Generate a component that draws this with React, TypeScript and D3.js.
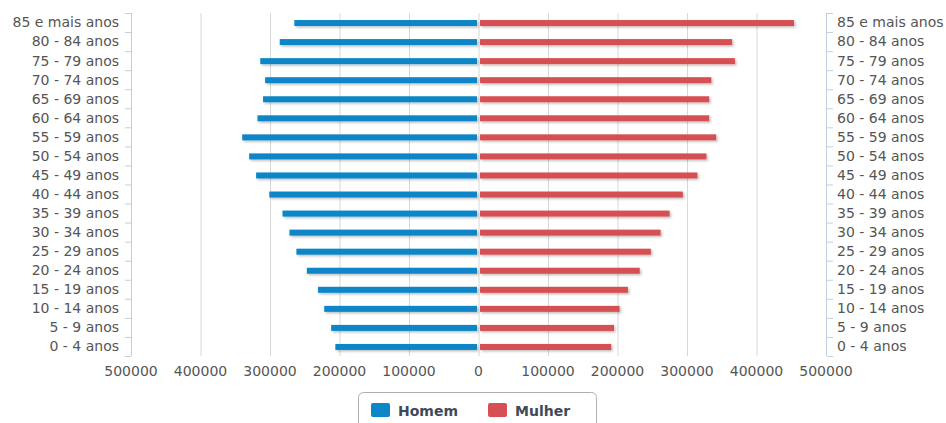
import React from "react";
import * as d3 from "d3";

const categories = [
  "85 e mais anos", "80 - 84 anos", "75 - 79 anos", "70 - 74 anos", "65 - 69 anos",
  "60 - 64 anos", "55 - 59 anos", "50 - 54 anos", "45 - 49 anos", "40 - 44 anos",
  "35 - 39 anos", "30 - 34 anos", "25 - 29 anos", "20 - 24 anos", "15 - 19 anos",
  "10 - 14 anos", "5 - 9 anos", "0 - 4 anos",
];
const homem = [265000, 286000, 314000, 307000, 310000, 318000, 340000, 330000, 320000, 301000,
  282000, 272000, 262000, 247000, 231000, 222000, 212000, 206000];
const mulher = [454000, 365000, 369000, 335000, 332000, 332000, 342000, 328000, 315000, 294000,
  275000, 262000, 248000, 232000, 215000, 203000, 195000, 191000];
const xTicks = [-500000, -400000, -300000, -200000, -100000, 0, 100000, 200000, 300000, 400000, 500000];
const seriesNames = ["Homem", "Mulher"];

const W = 946, H = 423;
const left = 131, right = 826, top = 13, bottom = 356;
const BLUE = "#0b86c8", RED = "#d64f52";
const FONT = "'DejaVu Sans', Verdana, sans-serif";

export default function App() {
  const x = d3.scaleLinear().domain([-500000, 500000]).range([left, right]);
  const y = d3.scaleBand<string>().domain(categories).range([top, bottom]).padding(0);
  const bw = y.bandwidth();
  const barH = 6;
  const fmt = (v: number) => String(Math.abs(v));
  const boundaries = d3.range(categories.length + 1).map((i) => top + i * bw);

  return (
    <svg width={W} height={H} style={{ position: "absolute", left: 0, top: 0, background: "#fff" }}
      fontFamily={FONT}>
      <defs>
        <filter id="sh" x="-5%" y="-100%" width="110%" height="300%">
          <feDropShadow dx="1.5" dy="1.5" stdDeviation="1" floodColor="#000" floodOpacity="0.25" />
        </filter>
      </defs>
      {/* grid */}
      {xTicks.map((t) => (
        <line key={"g" + t} x1={x(t) + 0.5} x2={x(t) + 0.5} y1={top} y2={bottom}
          stroke={t === -500000 || t === 500000 ? "#c0d0e0" : "#d8d8d8"} strokeWidth={1} />
      ))}
      {/* category axes ticks */}
      {boundaries.map((b, i) => (
        <g key={"t" + i}>
          <line x1={left - 6} x2={left} y1={b + 0.5} y2={b + 0.5} stroke="#c0d0e0" />
          <line x1={right + 1} x2={right + 7} y1={b + 0.5} y2={b + 0.5} stroke="#c0d0e0" />
        </g>
      ))}
      <line x1={left + 0.5} x2={left + 0.5} y1={top} y2={bottom} stroke="#c0d0e0" />
      <line x1={right + 0.5} x2={right + 0.5} y1={top} y2={bottom} stroke="#c0d0e0" />
      {/* bars */}
      {categories.map((c, i) => {
        const cy = (y(c) as number) + bw / 2 + 0.5 - barH / 2;
        const x0 = x(0);
        const xl = x(-homem[i]);
        const xr = x(mulher[i]);
        return (
          <g key={"b" + c}>
            <rect x={xl} y={cy} width={x0 - 1.5 - xl} height={barH} fill={BLUE} filter="url(#sh)" />
            <rect x={x0 + 1.5} y={cy} width={xr - x0 - 1.5} height={barH} fill={RED} filter="url(#sh)" />
          </g>
        );
      })}
      {/* category labels */}
      {categories.map((c) => (
        <text key={"l" + c} x={left - 12} y={(y(c) as number) + bw / 2} dy="0.35em" textAnchor="end"
          fontSize={14} fill="#555">{c}</text>
      ))}
      {categories.map((c) => (
        <text key={"r" + c} x={right + 11} y={(y(c) as number) + bw / 2} dy="0.35em" textAnchor="start"
          fontSize={14} fill="#555">{c}</text>
      ))}
      {/* x labels */}
      {xTicks.map((t) => (
        <text key={"x" + t} x={x(t)} y={376} textAnchor="middle" fontSize={14} fill="#555">{fmt(t)}</text>
      ))}
      {/* legend */}
      <rect x={358.5} y={392.5} width={238} height={40} rx={5} fill="#fff" stroke="#b0b0b0" />
      <rect x={371} y={403} width={19} height={14} rx={2} fill={BLUE} />
      <text x={398} y={416} fontSize={14} fontWeight="bold" fill="#3e4a5a">{seriesNames[0]}</text>
      <rect x={488} y={403} width={19} height={14} rx={2} fill={RED} />
      <text x={515} y={416} fontSize={14} fontWeight="bold" fill="#3e4a5a">{seriesNames[1]}</text>
    </svg>
  );
}
